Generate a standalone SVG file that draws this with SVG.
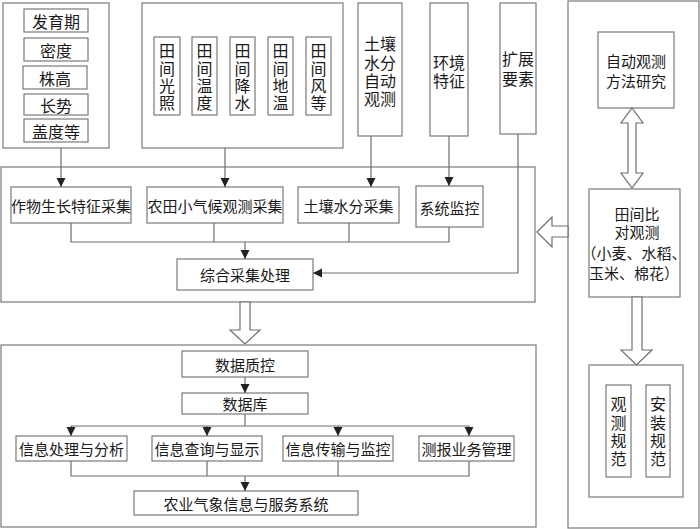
<svg xmlns="http://www.w3.org/2000/svg" width="700" height="529" viewBox="0 0 700 529">
<style>
.b{fill:#fff;stroke:#7a7a7a;stroke-width:1.2}
.c{fill:none;stroke:#6e6e6e;stroke-width:1.2}
.h{fill:#fff;stroke:#6e6e6e;stroke-width:1.2}
text{font-family:"Noto Sans CJK SC","Noto Sans CJK JP",sans-serif;fill:#1a1a1a;text-anchor:middle;dominant-baseline:central}
.t15{font-size:15px}
.t16{font-size:16px}
</style>
<defs>
<marker id="ah" markerWidth="10" markerHeight="10" refX="9" refY="5" orient="auto" markerUnits="userSpaceOnUse">
<path d="M0,0.5 L9,5 L0,9.5 Z" fill="#222"/>
</marker>
</defs>
<rect width="700" height="529" fill="#fff"/>

<g id="crop-traits">
<rect class="b" x="3" y="3" width="106" height="145"/>
<rect class="b" x="24" y="9" width="64" height="23"/><text class="t16" x="56" y="20.5">发育期</text>
<rect class="b" x="24" y="38" width="64" height="23"/><text class="t16" x="56" y="49.5">密度</text>
<rect class="b" x="23" y="66" width="64" height="23"/><text class="t16" x="55" y="77.5">株高</text>
<rect class="b" x="24" y="94" width="64" height="21"/><text class="t16" x="56" y="104.5">长势</text>
<rect class="b" x="24" y="119" width="64" height="23"/><text class="t16" x="56" y="130.5">盖度等</text>
</g>

<g id="field-micro">
<rect class="b" x="142" y="3" width="201" height="145"/>
<rect class="b" x="154" y="37" width="26" height="78"/>
<text class="t16"><tspan x="167" y="50">田</tspan><tspan x="167" y="68">间</tspan><tspan x="167" y="85">光</tspan><tspan x="167" y="102">照</tspan></text>
<rect class="b" x="192" y="37" width="25" height="78"/>
<text class="t16"><tspan x="204.5" y="50">田</tspan><tspan x="204.5" y="68">间</tspan><tspan x="204.5" y="85">温</tspan><tspan x="204.5" y="102">度</tspan></text>
<rect class="b" x="230" y="37" width="25" height="78"/>
<text class="t16"><tspan x="242.5" y="50">田</tspan><tspan x="242.5" y="68">间</tspan><tspan x="242.5" y="85">降</tspan><tspan x="242.5" y="102">水</tspan></text>
<rect class="b" x="268" y="37" width="25" height="78"/>
<text class="t16"><tspan x="280.5" y="50">田</tspan><tspan x="280.5" y="68">间</tspan><tspan x="280.5" y="85">地</tspan><tspan x="280.5" y="102">温</tspan></text>
<rect class="b" x="306" y="37" width="25" height="78"/>
<text class="t16"><tspan x="318.5" y="50">田</tspan><tspan x="318.5" y="68">间</tspan><tspan x="318.5" y="85">风</tspan><tspan x="318.5" y="102">等</tspan></text>
</g>

<g id="soil-auto">
<rect class="b" x="358" y="3" width="44" height="133"/>
<text class="t16"><tspan x="380" y="43">土壤</tspan><tspan x="380" y="62">水分</tspan><tspan x="380" y="80">自动</tspan><tspan x="380" y="98">观测</tspan></text>
</g>
<g id="env">
<rect class="b" x="430" y="3" width="38" height="133"/>
<text class="t16"><tspan x="449" y="62">环境</tspan><tspan x="449" y="80">特征</tspan></text>
</g>
<g id="ext">
<rect class="b" x="500" y="3" width="36" height="131"/>
<text class="t16"><tspan x="518" y="58">扩展</tspan><tspan x="518" y="78">要素</tspan></text>
</g>

<g id="collect-frame"><rect class="b" x="1" y="167" width="534" height="135"/></g>
<g id="c1"><rect class="b" x="11" y="187" width="120" height="36"/><text class="t15" x="71" y="205">作物生长特征采集</text></g>
<g id="c2"><rect class="b" x="147" y="187" width="136" height="36"/><text class="t15" x="215" y="205">农田小气候观测采集</text></g>
<g id="c3"><rect class="b" x="298" y="187" width="101" height="36"/><text class="t15" x="348.5" y="205">土壤水分采集</text></g>
<g id="c4"><rect class="b" x="416" y="186" width="67" height="41"/><text class="t15" x="449.5" y="207">系统监控</text></g>
<g id="c5"><rect class="b" x="177" y="259" width="136" height="31"/><text class="t15" x="245" y="274.5">综合采集处理</text></g>

<g id="db-frame"><rect class="b" x="1" y="345" width="535" height="182"/></g>
<g id="d1"><rect class="b" x="182" y="351" width="126" height="26"/><text class="t15" x="245" y="364">数据质控</text></g>
<g id="d2"><rect class="b" x="182" y="393" width="126" height="21"/><text class="t15" x="245" y="403.5">数据库</text></g>
<g id="d3"><rect class="b" x="16" y="436" width="111" height="25"/><text class="t15" x="71.5" y="448.5">信息处理与分析</text></g>
<g id="d4"><rect class="b" x="152" y="436" width="110" height="25"/><text class="t15" x="207" y="448.5">信息查询与显示</text></g>
<g id="d5"><rect class="b" x="283" y="436" width="110" height="25"/><text class="t15" x="338" y="448.5">信息传输与监控</text></g>
<g id="d6"><rect class="b" x="419" y="436" width="95" height="25"/><text class="t15" x="466.5" y="448.5">测报业务管理</text></g>
<g id="d7"><rect class="b" x="134" y="491" width="224" height="24"/><text class="t15" x="246" y="503">农业气象信息与服务系统</text></g>

<g id="right-frame"><rect class="b" x="568" y="1" width="131" height="527"/></g>
<g id="r1"><rect class="b" x="598" y="32" width="76" height="76"/>
<text class="t15"><tspan x="636" y="60">自动观测</tspan><tspan x="636" y="80">方法研究</tspan></text></g>
<g id="r2"><rect class="b" x="589" y="189" width="91" height="108"/>
<text class="t15"><tspan x="637" y="213">田间比</tspan><tspan x="637" y="231">对观测</tspan><tspan x="634" y="252">（小麦、水稻、</tspan><tspan x="634" y="272">玉米、棉花）</tspan></text></g>
<g id="r3"><rect class="b" x="589" y="365" width="94" height="132"/>
<rect class="b" x="606" y="385" width="25" height="92"/>
<text class="t16"><tspan x="618.5" y="403">观</tspan><tspan x="618.5" y="422">测</tspan><tspan x="618.5" y="440">规</tspan><tspan x="618.5" y="458">范</tspan></text>
<rect class="b" x="646" y="385" width="24" height="92"/>
<text class="t16"><tspan x="658" y="403">安</tspan><tspan x="658" y="422">装</tspan><tspan x="658" y="440">规</tspan><tspan x="658" y="458">范</tspan></text>
</g>

<g id="connectors">
<line class="c" x1="61" y1="148" x2="61" y2="187" marker-end="url(#ah)"/>
<line class="c" x1="225" y1="148" x2="225" y2="187" marker-end="url(#ah)"/>
<line class="c" x1="371" y1="136" x2="371" y2="187" marker-end="url(#ah)"/>
<line class="c" x1="449" y1="136" x2="449" y2="186" marker-end="url(#ah)"/>
<polyline class="c" points="518,134 518,273 313,273" marker-end="url(#ah)"/>
<polyline class="c" points="71,223 71,242 449,242 449,227"/>
<line class="c" x1="214" y1="223" x2="214" y2="242"/>
<line class="c" x1="349" y1="223" x2="349" y2="242"/>
<line class="c" x1="245" y1="242" x2="245" y2="259" marker-end="url(#ah)"/>
<line class="c" x1="245" y1="377" x2="245" y2="393" marker-end="url(#ah)"/>
<line class="c" x1="245" y1="414" x2="245" y2="426"/>
<line class="c" x1="71" y1="426" x2="469" y2="426"/>
<line class="c" x1="71" y1="426" x2="71" y2="436" marker-end="url(#ah)"/>
<line class="c" x1="207" y1="426" x2="207" y2="436" marker-end="url(#ah)"/>
<line class="c" x1="338" y1="426" x2="338" y2="436" marker-end="url(#ah)"/>
<line class="c" x1="469" y1="426" x2="469" y2="436" marker-end="url(#ah)"/>
<polyline class="c" points="71,461 71,476 469,476 469,461"/>
<line class="c" x1="207" y1="461" x2="207" y2="476"/>
<line class="c" x1="338" y1="461" x2="338" y2="476"/>
<line class="c" x1="245" y1="476" x2="245" y2="491" marker-end="url(#ah)"/>
<polygon class="h" points="240,302 240,330 230,330 245,344 260,330 250,330 250,302"/>
<polygon class="h" points="537,232 552,217 552,226 568,226 568,237 552,237 552,247"/>
<polygon class="h" points="632,108 643,123 636,123 636,173 643,173 632,188 621,173 628,173 628,123 621,123"/>
<polygon class="h" points="632,297 632,350 621,350 636.5,365 652,350 642,350 642,297"/>
</g>
</svg>
